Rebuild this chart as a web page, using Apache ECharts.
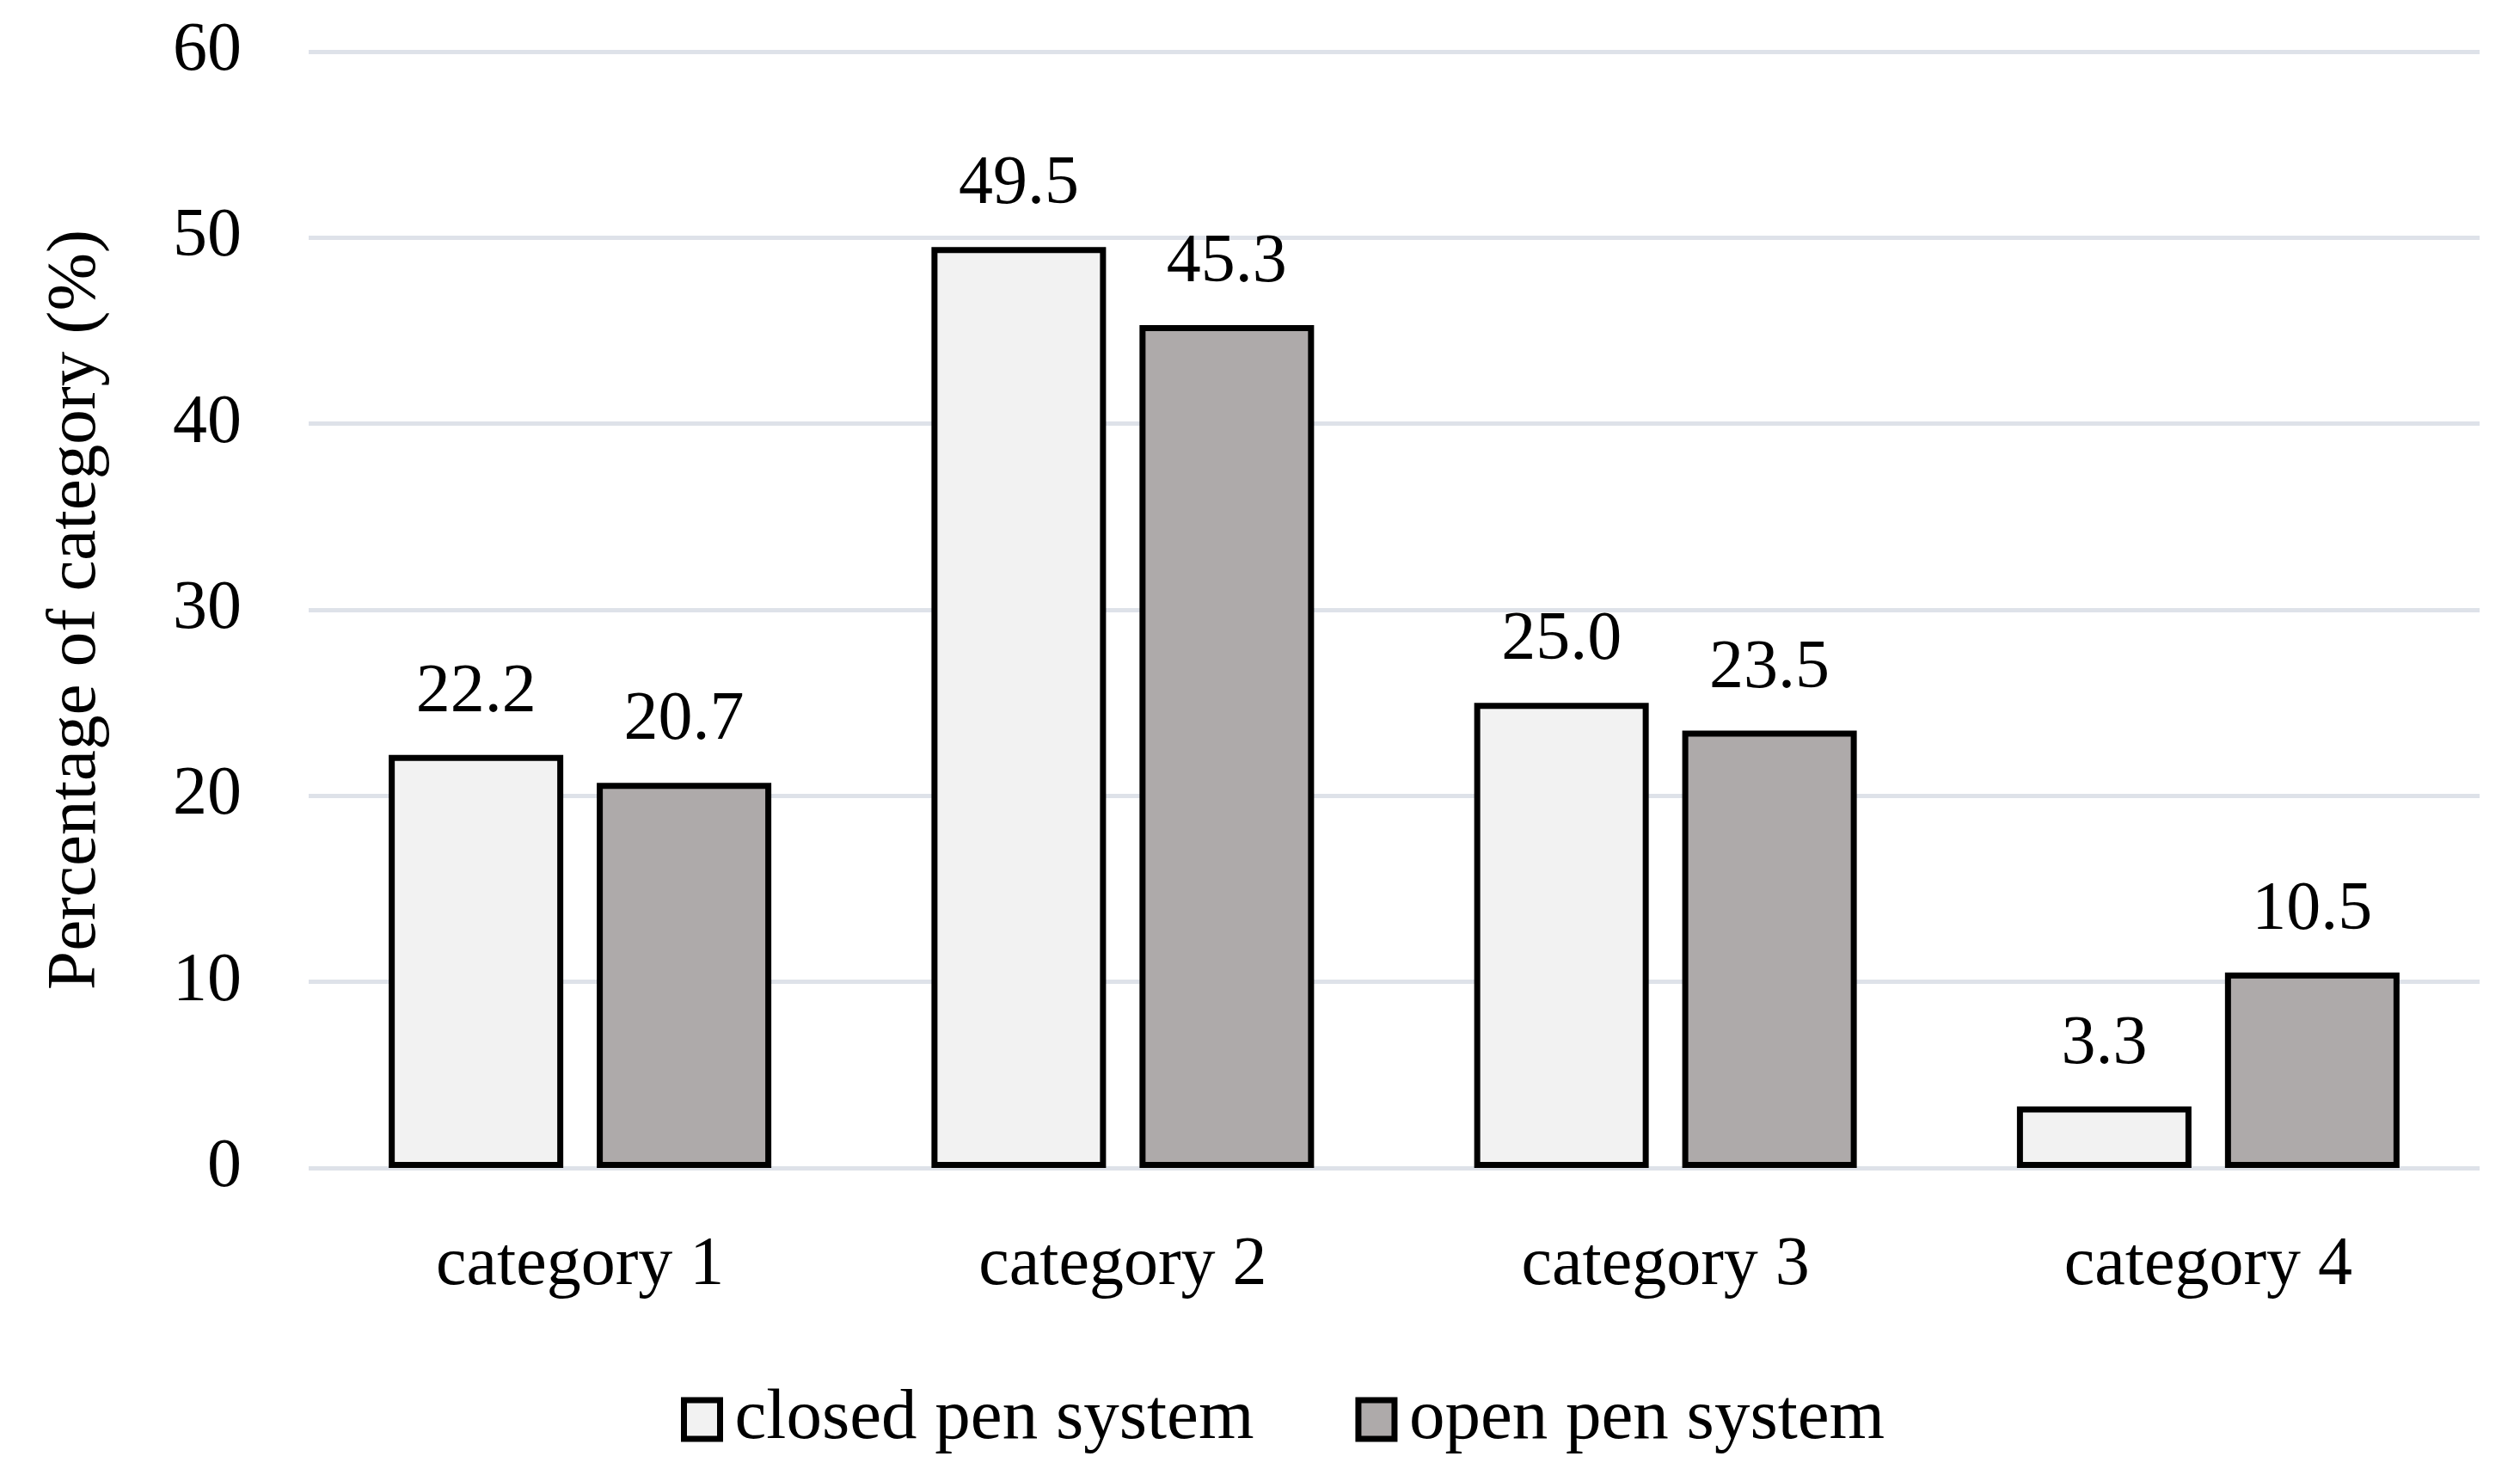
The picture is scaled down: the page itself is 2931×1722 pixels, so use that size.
<!DOCTYPE html>
<html><head><meta charset="utf-8">
<script src="https://cdn.jsdelivr.net/npm/echarts@6/dist/echarts.min.js"></script>
<style>html,body{margin:0;padding:0;background:#fff}#c{width:2931px;height:1722px}</style>
</head><body><div id="c"></div>
<script>
const categories = ['category 1', 'category 2', 'category 3', 'category 4'];
const closedPen = [22.2, 49.5, 25.0, 3.3];
const openPen = [20.7, 45.3, 23.5, 10.5];
const seriesNames = ['closed pen system', 'open pen system'];
const yTicks = { min: 0, max: 60, interval: 10 };

const FONT = '"Liberation Serif", "DejaVu Serif", serif';
const chart = echarts.init(document.getElementById('c'), null, { renderer: 'canvas' });
const barStyle = (fill) => ({ color: fill, borderColor: '#000', borderWidth: 7 });
const lbl = {
  show: true, position: 'top', distance: 32, color: '#000',
  fontFamily: FONT, fontSize: 80,
  formatter: p => p.value.toFixed(1)
};
chart.setOption({
  backgroundColor: '#fff',
  animation: false,
  grid: { left: 359, right: 47, top: 60, bottom: 364, containLabel: false },
  legend: {
    data: seriesNames,
    left: 787, top: 1604,
    icon: 'rect',
    itemWidth: 42, itemHeight: 45, itemGap: 118,
    itemStyle: { borderColor: '#000', borderWidth: 7 },
    textStyle: { fontFamily: FONT, fontSize: 83, color: '#000', padding: [0, 0, 0, 12] }
  },
  xAxis: {
    type: 'category', data: categories,
    axisLine: { show: false }, axisTick: { show: false },
    axisLabel: { margin: 74, fontFamily: FONT, fontSize: 80, color: '#000' }
  },
  yAxis: {
    type: 'value', min: yTicks.min, max: yTicks.max, interval: yTicks.interval,
    name: 'Percentage of category (%)', nameLocation: 'middle', nameGap: 230,
    nameTextStyle: { fontFamily: FONT, fontSize: 81, color: '#000' },
    axisLine: { show: false }, axisTick: { show: false },
    axisLabel: { margin: 78, fontFamily: FONT, fontSize: 80, color: '#000' },
    splitLine: { lineStyle: { color: '#DEE2E9', width: 5 } }
  },
  series: [
    { name: seriesNames[0], type: 'bar', data: closedPen, barWidth: 203, barGap: '19.2%',
      itemStyle: barStyle('#F2F2F2'), label: lbl },
    { name: seriesNames[1], type: 'bar', data: openPen, barWidth: 203, barGap: '19.2%',
      itemStyle: barStyle('#AEAAAA'), label: lbl }
  ]
});
</script></body></html>
